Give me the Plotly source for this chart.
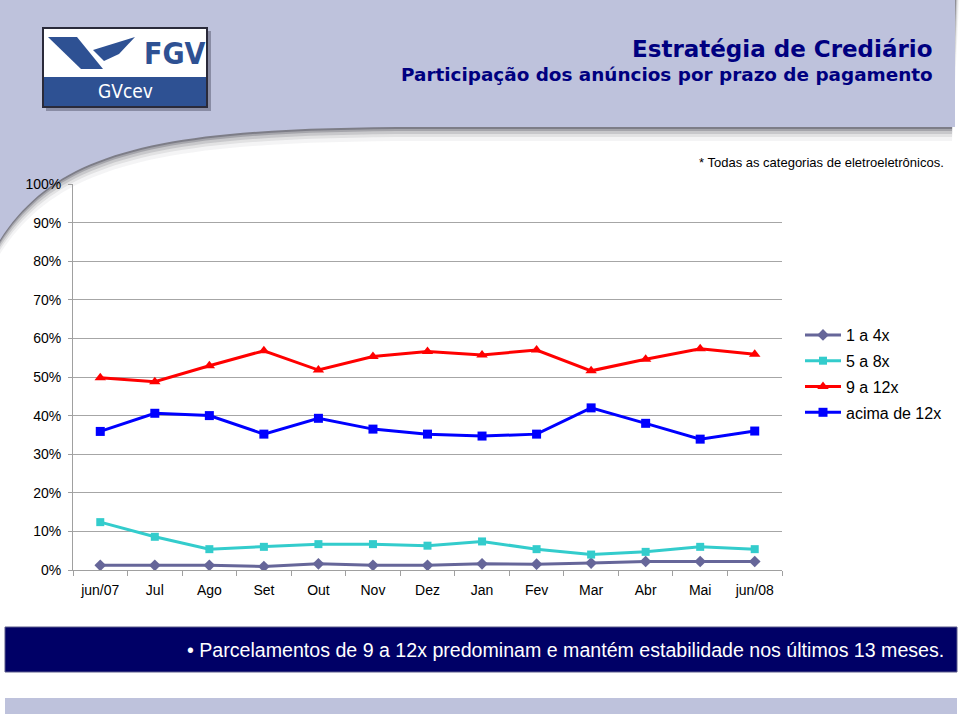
import plotly.graph_objects as go

# ---------------- data ----------------
months = ["jun/07", "Jul", "Ago", "Set", "Out", "Nov", "Dez", "Jan", "Fev", "Mar", "Abr", "Mai", "jun/08"]
s_1a4 = [1.2, 1.2, 1.2, 0.9, 1.6, 1.2, 1.2, 1.6, 1.5, 1.8, 2.2, 2.2, 2.2]
s_5a8 = [12.4, 8.6, 5.4, 6.0, 6.7, 6.7, 6.3, 7.4, 5.4, 4.0, 4.7, 6.0, 5.4]
s_9a12 = [49.8, 48.8, 52.9, 56.8, 51.8, 55.3, 56.6, 55.7, 57.0, 51.6, 54.6, 57.3, 55.9]
s_acima12 = [35.9, 40.6, 40.0, 35.2, 39.3, 36.5, 35.2, 34.7, 35.2, 42.0, 38.0, 33.9, 36.0]
series_names = ["1 a 4x", "5 a 8x", "9 a 12x", "acima de 12x"]
y_ticks = [0, 10, 20, 30, 40, 50, 60, 70, 80, 90, 100]
y_tick_labels = [f"{v}%" for v in y_ticks]

title = "Estratégia de Crediário"
subtitle = "Participação dos anúncios por prazo de pagamento"
note = "* Todas as categorias de eletroeletrônicos."
banner = "• Parcelamentos de 9 a 12x predominam e mantém estabilidade nos últimos 13 meses."

# ---------------- geometry helpers ----------------
FW, FH = 960, 716
L, R, T, B = 73, 782, 184, 570
W, H = R - L, B - T


def px(x):
    return (x - L) / W


def py(y):
    return (B - y) / H


def P(x, y):
    return f"{px(x):.5f},{py(y):.5f}"


PERI = "#BEC2DC"
NAVY = "#000066"
LOGO = "#2E5193"

fig = go.Figure()

styles = [
    dict(color="#666699", symbol="diamond", size=9),
    dict(color="#33CCCC", symbol="square", size=8),
    dict(color="#FF0000", symbol="triangle-up", size=10),
    dict(color="#0000FF", symbol="square", size=9),
]
for i, (name, vals) in enumerate(zip(series_names, [s_1a4, s_5a8, s_9a12, s_acima12])):
    st = styles[i]
    fig.add_trace(go.Scatter(
        x=months, y=vals, name=name, mode="lines+markers",
        legendgroup=f"g{i}",
        line=dict(color=st["color"], width=3),
        marker=dict(color=st["color"], symbol=st["symbol"], size=st["size"]),
    ))

shapes = []
# header shadow (soft, stacked) + fill
for off, alpha in [(14, 0.05), (10, 0.09), (7, 0.14), (4, 0.22), (2, 0.32)]:
    sp = (f"M {P(0, 240 + off)} C {P(58, 150 + off)} {P(160, 127 + off)} {P(420, 127 + off)} "
          f"L {P(952, 127 + off)} L {P(955 + off * 0.3, 0)} L {P(0, 0)} Z")
    shapes.append(dict(type="path", xref="paper", yref="paper", path=sp,
                       fillcolor=f"rgba(40,40,60,{alpha})", line=dict(width=0), layer="below"))
header_path = (f"M {P(0, 240)} C {P(58, 150)} {P(160, 127)} {P(420, 127)} "
               f"L {P(955, 127)} L {P(955, 0)} L {P(0, 0)} Z")
shapes.append(dict(type="path", xref="paper", yref="paper", path=header_path,
                   fillcolor=PERI, line=dict(width=0), layer="below"))

# logo
shapes.append(dict(type="rect", xref="paper", yref="paper",
                   x0=px(46), x1=px(211), y0=py(111), y1=py(31),
                   fillcolor="rgba(40,40,60,0.35)", line=dict(width=0), layer="below"))
shapes.append(dict(type="rect", xref="paper", yref="paper",
                   x0=px(43), x1=px(207), y0=py(107), y1=py(28),
                   fillcolor="white", line=dict(color="#2a2a3a", width=2), layer="below"))
shapes.append(dict(type="rect", xref="paper", yref="paper",
                   x0=px(44), x1=px(206), y0=py(106), y1=py(77),
                   fillcolor=LOGO, line=dict(width=0), layer="below"))
shapes.append(dict(type="path", xref="paper", yref="paper",
                   path=f"M {P(48, 37)} L {P(77, 37)} L {P(103, 69)} L {P(81, 69)} Z",
                   fillcolor=LOGO, line=dict(width=0), layer="below"))
shapes.append(dict(type="path", xref="paper", yref="paper",
                   path=f"M {P(93, 50)} L {P(135, 37)} L {P(119, 54)} L {P(104, 61)} Z",
                   fillcolor=LOGO, line=dict(width=0), layer="below"))

# bottom banner and band
shapes.append(dict(type="rect", xref="paper", yref="paper",
                   x0=px(5), x1=px(957), y0=py(672), y1=py(627),
                   fillcolor=NAVY, line=dict(color="#5a5a8a", width=1), layer="below"))
shapes.append(dict(type="rect", xref="paper", yref="paper",
                   x0=px(5), x1=px(957), y0=py(714), y1=py(698),
                   fillcolor=PERI, line=dict(width=0), layer="below"))

annotations = [
    dict(text=f"<b>{title}</b>", x=px(935), y=py(49), xanchor="right", yanchor="middle",
         font=dict(family="DejaVu Sans", size=23, color="#000080")),
    dict(text=f"<b>{subtitle}</b>", x=px(935), y=py(74), xanchor="right", yanchor="middle",
         font=dict(family="DejaVu Sans", size=18.4, color="#000080")),
    dict(text=note, x=px(946), y=py(162), xanchor="right", yanchor="middle",
         font=dict(family="Liberation Sans", size=13, color="black")),
    dict(text=banner, x=px(946), y=py(650), xanchor="right", yanchor="middle",
         font=dict(family="Liberation Sans", size=19.6, color="white")),
    dict(text="<b>FGV</b>", x=px(175), y=py(54), xanchor="center", yanchor="middle",
         font=dict(family="DejaVu Sans Condensed, Liberation Sans", size=30, color=LOGO)),
    dict(text="GVcev", x=px(125), y=py(91), xanchor="center", yanchor="middle",
         font=dict(family="DejaVu Sans Condensed, Liberation Sans", size=19, color="white")),
]
for a in annotations:
    a.update(xref="paper", yref="paper", showarrow=False)

fig.update_layout(
    width=FW, height=FH, autosize=False,
    margin=dict(l=L, r=FW - R, t=T, b=FH - B, pad=0),
    paper_bgcolor="white", plot_bgcolor="rgba(0,0,0,0)",
    font=dict(family="Liberation Sans", size=14, color="black"),
    shapes=shapes, annotations=annotations,
    showlegend=True,
    legend=dict(x=px(800), y=py(318), xanchor="left", yanchor="top",
                bgcolor="rgba(0,0,0,0)", tracegroupgap=2, itemwidth=36,
                font=dict(family="Liberation Sans", size=16, color="black")),
)
fig.update_xaxes(type="category", range=[-0.5, len(months) - 0.5],
                 tickson="boundaries", ticks="outside", ticklen=5, tickcolor="#A0A0A0",
                 showline=True, linecolor="#A0A0A0", linewidth=1, showgrid=False,
                 ticklabelstandoff=7, tickfont=dict(size=14))
fig.update_yaxes(range=[0, 100], tickmode="array", tickvals=y_ticks, ticktext=y_tick_labels,
                 ticks="outside", ticklen=4, tickcolor="#A0A0A0",
                 showline=True, linecolor="#A0A0A0", linewidth=1,
                 showgrid=True, gridcolor="#A6A6A6", gridwidth=1, zeroline=False,
                 ticklabelstandoff=4, tickfont=dict(size=14))

fig.write_html("out.html", config={"displayModeBar": False},
               post_script="document.body.style.margin='0';document.body.style.padding='0';")
